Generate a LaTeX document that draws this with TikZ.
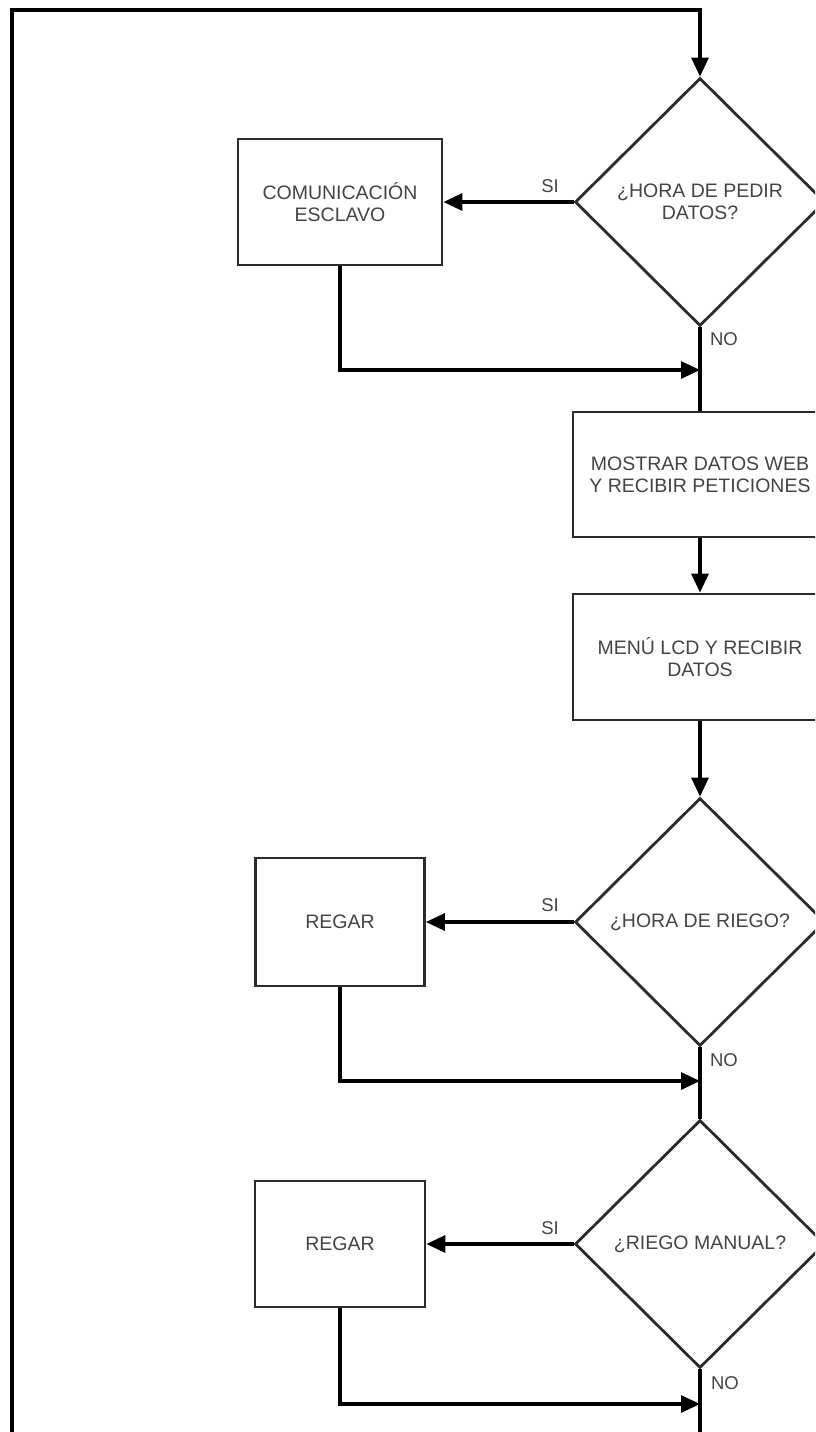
\documentclass[tikz,border=0pt]{standalone}
\usepackage{fontspec}
\setmainfont{Liberation Sans}
\usetikzlibrary{shapes.geometric,arrows.meta,calc}
\definecolor{txt}{HTML}{444444}
\definecolor{edge}{HTML}{2B2B2B}
\begin{document}
\begin{tikzpicture}[x=1pt,y=-1pt,
  box/.style={draw=edge, line width=2.8pt, rectangle, inner sep=0pt, align=center, text=txt, font=\fontsize{19.5}{22}\selectfont},
  dec/.style={draw=edge, line width=2.8pt, diamond, aspect=1, minimum width=250pt, minimum height=248pt, inner sep=0pt, align=center, text=txt, font=\fontsize{19.5}{22}\selectfont},
  conn/.style={line width=3.2pt, black},
  arr/.style={conn, -{Triangle[length=19pt,width=17pt]}},
  lbl/.style={text=txt, font=\fontsize{18.5}{22}\selectfont, inner sep=0pt}]
\useasboundingbox (0,0) rectangle (815,1432);
\fill[white] (0,0) rectangle (815,1432);
\clip (0,0) rectangle (815,1432);

% nodes
\node[dec] (d1) at (700,202) {¿HORA DE PEDIR\\DATOS?};
\node[box, minimum width=204pt, minimum height=126pt] (c1) at (340,202) {COMUNICACIÓN\\ESCLAVO};
\node[box, minimum width=254pt, minimum height=125pt] (b2) at (700,474.5) {MOSTRAR DATOS WEB\\Y RECIBIR PETICIONES};
\node[box, minimum width=254pt, minimum height=126pt] (b3) at (700,657) {MENÚ LCD Y RECIBIR\\DATOS};
\node[dec] (d2) at (700,922) {¿HORA DE RIEGO?};
\node[box, minimum width=169pt, minimum height=128pt] (r1) at (340,922) {REGAR};
\node[dec] (d3) at (700,1244) {¿RIEGO MANUAL?};
\node[box, minimum width=170pt, minimum height=126pt] (r2) at (340,1244) {REGAR};

% labels
\node[lbl] (si1) at (550,186) {SI};
\node[lbl] (no1) at (724,339) {NO};
\node[lbl] (si2) at (550,905) {SI};
\node[lbl] (no2) at (724,1060) {NO};
\node[lbl] (si3) at (550,1228) {SI};
\node[lbl] (no3) at (725,1383) {NO};

% coordinates
\coordinate (m1) at (700,370);
\coordinate (m2) at (700,1081);
\coordinate (m3) at (700,1404);
\coordinate (lbR) at (700,1460);
\coordinate (lbL) at (12,1460);
\coordinate (ltL) at (12,10);
\coordinate (ltR) at (700,10);

% connectors
\draw[arr] (d3.south) -- (lbR) -- (lbL) -- (ltL) -- (ltR) -- (d1.north);
\draw[arr] (d1.west) -- (c1.east);
\draw[conn] (d1.south) -- (b2.north);
\draw[arr] (c1.south) |- (m1);
\draw[arr] (b2.south) -- (b3.north);
\draw[arr] (b3.south) -- (d2.north);
\draw[arr] (d2.west) -- (r1.east);
\draw[conn] (d2.south) -- (d3.north);
\draw[arr] (r1.south) |- (m2);
\draw[arr] (d3.west) -- (r2.east);
\draw[arr] (r2.south) |- (m3);
\end{tikzpicture}
\end{document}
